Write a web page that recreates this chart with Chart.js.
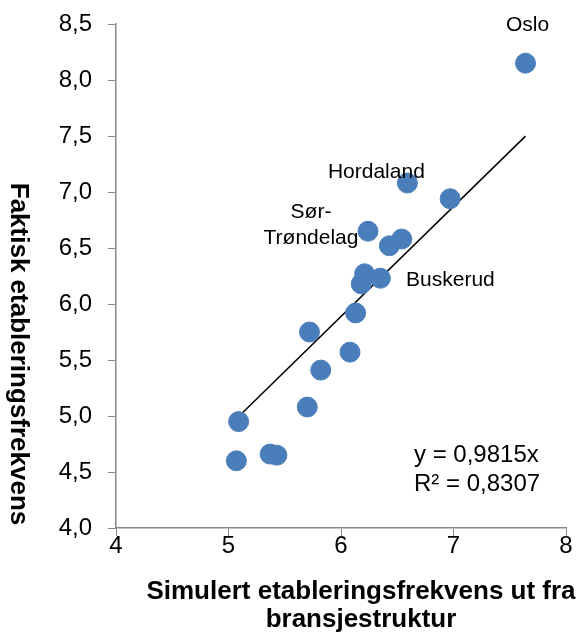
<!DOCTYPE html>
<html>
<head>
<meta charset="utf-8">
<script src="https://cdn.jsdelivr.net/npm/chart.js@4.4.1/dist/chart.umd.min.js"></script>
<style>
  html, body { margin: 0; padding: 0; background: #fff; }
  #wrap { width: 584px; height: 632px; position: relative; }
</style>
</head>
<body>
<div id="wrap"><canvas id="scatter"></canvas></div>
<script>
// ── Data ──────────────────────────────────────────────────────
const simulert = [7.64, 6.59, 6.97, 6.24, 6.54, 6.43, 6.21, 6.18, 6.35, 6.13,
                  5.72, 6.08, 5.82, 5.70, 5.09, 5.07, 5.37, 5.43];
const faktisk  = [8.15, 7.08, 6.94, 6.65, 6.58, 6.52, 6.27, 6.18, 6.23, 5.92,
                  5.75, 5.57, 5.41, 5.08, 4.95, 4.60, 4.66, 4.65];
const names    = ['Oslo', 'Hordaland', '', 'Sør-Trøndelag', '', '', '', '', 'Buskerud', '',
                  '', '', '', '', '', '', '', ''];
const slope    = 0.9815;
const rSquared = '0,8307';
const xTicks   = [4, 5, 6, 7, 8];
const yTicks   = [4.0, 4.5, 5.0, 5.5, 6.0, 6.5, 7.0, 7.5, 8.0, 8.5];

const points = simulert.map((x, i) => ({ x, y: faktisk[i] }));
const xMin = Math.min(...simulert);
const xMax = Math.max(...simulert);
const trend = [{ x: xMin, y: slope * xMin }, { x: xMax, y: slope * xMax }];

const FONT = 'Liberation Sans, Arial, sans-serif';
const comma = (v, d) => Number(v).toFixed(d).replace('.', ',');

// ── Labels, equation and axis titles ─────────────────────────
const labelOffsets = {
  'Oslo':          { dx: 2,   dy: -38, lines: ['Oslo'] },
  'Hordaland':     { dx: -31, dy: -11, lines: ['Hordaland'] },
  'Sør-Trøndelag': { dx: -57, dy: -6,  lines: ['Sør-', 'Trøndelag'] },
  'Buskerud':      { dx: 70,  dy: 2,   lines: ['Buskerud'] },
};

const annotations = {
  id: 'annotations',
  afterDatasetsDraw(chart) {
    const { ctx, scales: { x, y } } = chart;
    ctx.save();
    ctx.fillStyle = '#000';
    ctx.textBaseline = 'middle';
    ctx.textAlign = 'center';
    ctx.font = `21px ${FONT}`;
    names.forEach((n, i) => {
      if (!n) return;
      const o = labelOffsets[n];
      const px = x.getPixelForValue(simulert[i]) + o.dx;
      const py = y.getPixelForValue(faktisk[i]) + o.dy;
      o.lines.forEach((l, k) => ctx.fillText(l, px, py + (k - (o.lines.length - 1) / 2) * 26));
    });

    ctx.textAlign = 'left';
    ctx.font = `24px ${FONT}`;
    ctx.fillText(`y = ${comma(slope, 4)}x`, 414, 455);
    ctx.fillText(`R² = ${rSquared}`, 414, 484);

    ctx.font = `bold 26px ${FONT}`;
    ctx.textAlign = 'center';
    ctx.fillText('Simulert etableringsfrekvens ut fra', 361, 592);
    ctx.fillText('bransjestruktur', 361, 620);

    ctx.translate(18, 354);
    ctx.rotate(Math.PI / 2);
    ctx.fillText('Faktisk etableringsfrekvens', 0, 0);
    ctx.restore();
  },
};

// ── Chart ─────────────────────────────────────────────────────
new Chart(document.getElementById('scatter'), {
  type: 'scatter',
  data: {
    datasets: [
      {
        type:            'line',
        data:            trend,
        borderColor:     '#000',
        borderWidth:     1.5,
        pointRadius:     0,
        fill:            false,
        order:           2,
      },
      {
        data:            points,
        backgroundColor: '#4A7EBB',
        borderColor:     '#4A7EBB',
        pointRadius:     10,
        pointHoverRadius: 10,
        clip:            false,
        order:           1,
      },
    ],
  },
  options: {
    responsive:          true,
    maintainAspectRatio: false,
    animation:           false,
    layout: { padding: { top: 24, right: 18, left: 0, bottom: 0 } },
    plugins: {
      legend:  { display: false },
      tooltip: { enabled: false },
    },
    scales: {
      x: {
        type: 'linear',
        min:  4,
        max:  8,
        afterFit: (s) => { s.height = 104; s.paddingLeft = 0; s.paddingRight = 0; },
        afterBuildTicks: (s) => { s.ticks = xTicks.map(v => ({ value: v })); },
        ticks: {
          color:    '#000',
          font:     { family: FONT, size: 24 },
          padding:  -4,
          callback: (v) => String(v),
        },
        grid:   { drawOnChartArea: false, tickLength: 8, color: '#868686' },
        border: { color: '#868686', width: 1.5 },
      },
      y: {
        type: 'linear',
        min:  4,
        max:  8.5,
        afterFit: (s) => { s.width = 116; s.paddingTop = 0; s.paddingBottom = 0; },
        afterBuildTicks: (s) => { s.ticks = yTicks.map(v => ({ value: v })); },
        ticks: {
          color:    '#000',
          font:     { family: FONT, size: 24 },
          padding:  16,
          callback: (v) => comma(v, 1),
        },
        grid:   { drawOnChartArea: false, tickLength: 8, color: '#868686' },
        border: { color: '#868686', width: 1.5 },
      },
    },
  },
  plugins: [annotations],
});
</script>
</body>
</html>
